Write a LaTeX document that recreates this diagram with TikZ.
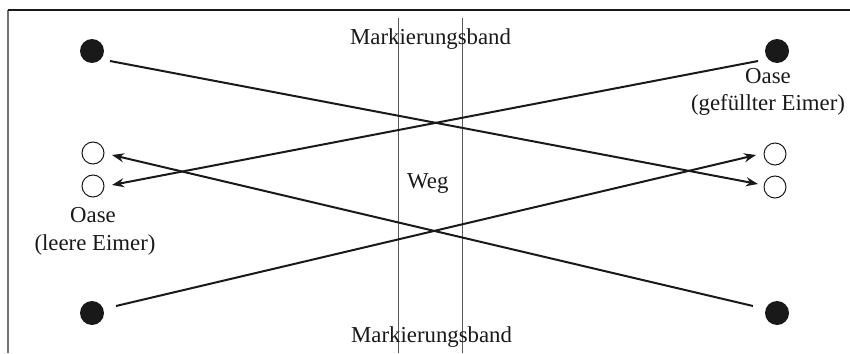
\documentclass[tikz,border=0pt]{standalone}
\usepackage{fontspec}
\setmainfont{Liberation Serif}
\usetikzlibrary{arrows.meta}
\begin{document}
\begin{tikzpicture}[x=1pt,y=-1pt,
  full/.style={circle,fill=black!90,inner sep=0pt,minimum size=24pt},
  empty/.style={circle,draw=black!90,line width=1pt,inner sep=0pt,minimum size=22pt},
  conn/.style={line width=2pt,black!90,-{Stealth[length=12pt,width=9pt]}},
  lbl/.style={font=\fontsize{22.8}{27}\selectfont,inner sep=0pt,text=black!90},
  band/.style={line width=0.8pt,black!65}]
\useasboundingbox (0,0) rectangle (850,353);
% frame
\coordinate (f1) at (8,353);
\coordinate (f2) at (8,10);
\coordinate (f3) at (850,10);
\draw[line width=1.3pt,black!55] (f1) -- (f2);
\draw[line width=1.3pt,black!90] (f2) -- (f3);
% path lines
\coordinate (v1t) at (398,18);
\coordinate (v1b) at (398,353);
\coordinate (v2t) at (462,18);
\coordinate (v2b) at (462,353);
\draw[band] (v1t) -- (v1b);
\draw[band] (v2t) -- (v2b);
% nodes
\node[full] (tl) at (92,51) {};
\node[full] (bl) at (92,313) {};
\node[full] (tr) at (777,51) {};
\node[full] (br) at (777,313) {};
\node[empty] (lt) at (93,153) {};
\node[empty] (lb) at (93,186) {};
\node[empty] (rt) at (775,154) {};
\node[empty] (rb) at (775,187) {};
% labels
\node[lbl,anchor=base west] (mt) at (350,45) {Markierungsband};
\node[lbl,anchor=base west] (mb) at (351,342) {Markierungsband};
\node[lbl,anchor=base west] (weg) at (407,188) {Weg};
\node[lbl,anchor=base] (ol) at (93,222) {Oase};
\node[lbl,anchor=base] (el) at (95,250) {(leere Eimer)};
\node[lbl,anchor=base] (or) at (768,83) {Oase};
\node[lbl,anchor=base] (er) at (768,110) {(gefüllter Eimer)};
% connectors
\draw[conn] ([shift={(18,10)}]tl.center) -- ([shift={(-17,-3)}]rb.center);
\draw[conn] ([shift={(-19,10)}]tr.center) -- ([shift={(19,-1)}]lb.center);
\draw[conn] ([shift={(24,-7)}]bl.center) -- ([shift={(-19,1)}]rt.center);
\draw[conn] ([shift={(-24,-7)}]br.center) -- ([shift={(19,2)}]lt.center);
\end{tikzpicture}
\end{document}
